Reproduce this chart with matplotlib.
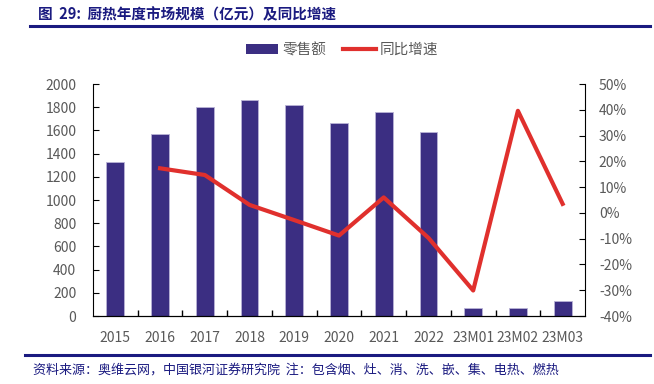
import matplotlib.pyplot as plt
import numpy as np
from matplotlib.lines import Line2D
from matplotlib.patches import Patch

plt.rcParams['font.family'] = ['Noto Sans CJK SC', 'DejaVu Sans']

# chart data
categories = ['2015', '2016', '2017', '2018', '2019', '2020', '2021', '2022',
              '23M01', '23M02', '23M03']
sales = [1330, 1570, 1805, 1865, 1815, 1660, 1755, 1588, 72, 72, 127]
growth = [np.nan, 17.3, 14.7, 3.1, -2.8, -8.8, 6.0, -9.7, -30.1, 39.6, 3.5]

bar_color = '#3B2E82'
line_color = '#E0302D'
navy = '#1A1A80'
gray = '#595959'

fig = plt.figure(figsize=(6.54, 3.84), dpi=100)
ax = fig.add_axes([93 / 654, 1 - 316 / 384, (585 - 93) / 654, (316 - 84) / 384])
ax2 = ax.twinx()

x = np.arange(len(categories))
ax.bar(x, sales, width=0.4, color=bar_color, edgecolor='#B9B3D6', linewidth=0.6, zorder=2)
ax2.plot(x, growth, color=line_color, linewidth=3, zorder=3)

ax.set_xlim(-0.5, len(categories) - 0.5)
ax.set_ylim(0, 2000)
ax.set_yticks(np.arange(0, 2001, 200))
ax2.set_ylim(-40, 50)
ax2.set_yticks(np.arange(-40, 51, 10))
ax2.set_yticklabels(['{}%'.format(v) for v in range(-40, 51, 10)])

ax.set_xticks(x)
ax.set_xticklabels(categories)
ax.set_xticks(np.arange(0.5, len(categories) - 1, 1), minor=True)
ax.tick_params(axis='x', which='major', length=0, pad=11, labelsize=10, labelcolor=gray)
ax.tick_params(axis='x', which='minor', length=4, direction='in', width=1)
ax.tick_params(axis='y', direction='in', length=4, labelsize=10, labelcolor=gray, pad=12)
ax2.tick_params(axis='y', direction='in', length=4, labelsize=10, labelcolor=gray, pad=10)

for a in (ax, ax2):
    a.spines['top'].set_visible(False)
    a.patch.set_visible(False)
ax.spines['right'].set_visible(False)
ax2.spines['left'].set_visible(False)
ax.set_zorder(1)
ax2.set_zorder(2)

handles = [Patch(facecolor=bar_color, edgecolor='none'),
           Line2D([0], [0], color=line_color, linewidth=3)]
fig.legend(handles, ['零售额', '同比增速'], loc='center', bbox_to_anchor=(342 / 654, 1 - 50 / 384),
           ncol=2, frameon=False, fontsize=10.5, labelcolor=gray, handlelength=2.2,
           handleheight=0.6, handletextpad=0.3, columnspacing=1.2)

# title and source
fig.text(38 / 654, 1 - 14 / 384, '图  29:  厨热年度市场规模（亿元）及同比增速', fontsize=10.5,
         fontweight='bold', color=navy, va='center', ha='left')
fig.add_artist(Line2D([30 / 654, 650 / 654], [1 - 26 / 384] * 2, color=navy, linewidth=2.2))
fig.add_artist(Line2D([25 / 654, 650 / 654], [1 - 355 / 384] * 2, color=navy, linewidth=2.2))
fig.text(33 / 654, 1 - 370 / 384, '资料来源：奥维云网，中国银河证券研究院  注：包含烟、灶、消、洗、嵌、集、电热、燃热',
         fontsize=9.4, style='italic', color=navy, va='center', ha='left')

fig.savefig('out.png', dpi=100)
